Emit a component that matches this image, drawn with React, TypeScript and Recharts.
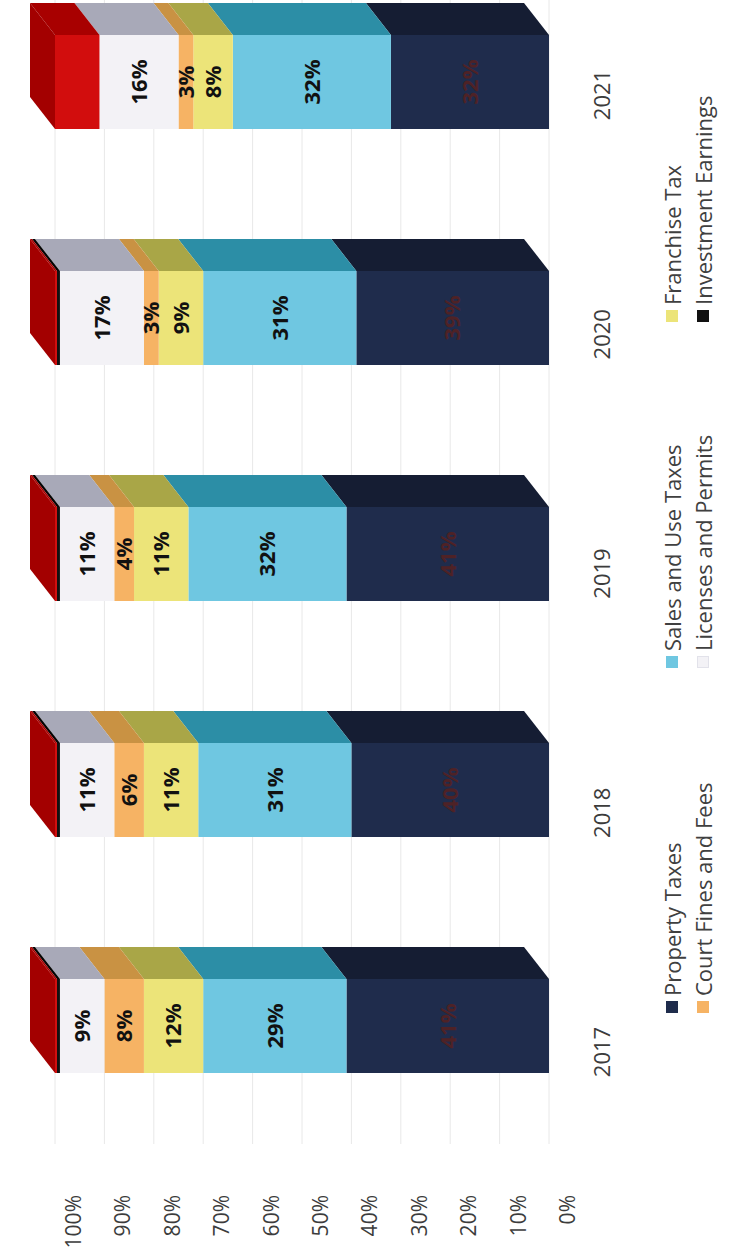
import React from 'react';
import { BarChart, Bar, XAxis, YAxis, CartesianGrid, LabelList } from 'recharts';

// revenue mix by year, percent of total
const years = ['2017', '2018', '2019', '2020', '2021'];
const propertyTaxes = [41, 40, 41, 39, 32];
const salesAndUseTaxes = [29, 31, 32, 31, 32];
const franchiseTax = [12, 11, 11, 9, 8];
const courtFinesAndFees = [8, 6, 4, 3, 3];
const licensesAndPermits = [9, 11, 11, 17, 16];
const investmentEarnings = [0.6, 0.6, 0.6, 0.6, 0];
const otherRevenue = [0.4, 0.4, 0.4, 0.4, 9];
const percentTicks = [0, 10, 20, 30, 40, 50, 60, 70, 80, 90, 100];

const data = years.map((year, i) => ({
  year,
  property: propertyTaxes[i],
  sales: salesAndUseTaxes[i],
  franchise: franchiseTax[i],
  court: courtFinesAndFees[i],
  licenses: licensesAndPermits[i],
  investment: investmentEarnings[i],
  other: otherRevenue[i],
}));

interface SeriesDef {
  key: string;
  name: string;
  front: string;
  side: string;
  labelColor?: string;
  inLegend: boolean;
}

const series: SeriesDef[] = [
  { key: 'property', name: 'Property Taxes', front: '#1f2c4c', side: '#151d33', labelColor: '#4e2226', inLegend: true },
  { key: 'sales', name: 'Sales and Use Taxes', front: '#6fc7e1', side: '#2c8ea6', labelColor: '#111', inLegend: true },
  { key: 'franchise', name: 'Franchise Tax', front: '#ece479', side: '#a9a647', labelColor: '#111', inLegend: true },
  { key: 'court', name: 'Court Fines and Fees', front: '#f6b364', side: '#c99243', labelColor: '#111', inLegend: true },
  { key: 'licenses', name: 'Licenses and Permits', front: '#f3f2f6', side: '#a8a9b8', labelColor: '#111', inLegend: true },
  { key: 'investment', name: 'Investment Earnings', front: '#111111', side: '#050505', inLegend: true },
  { key: 'other', name: 'Other', front: '#d20d0d', side: '#a80000', inLegend: false },
];

const DEPTH_X = 32;
const DEPTH_Y = 25;
const FONT = '"Open Sans", sans-serif';

const Bar3D = (props: any) => {
  const { x, y, width, height, front, side, cap } = props;
  if (x == null || y == null) return null;
  const w = width;
  const h = Math.max(height, 0);
  return (
    <g>
      <rect x={x} y={y} width={w} height={h} fill={front} />
      <polygon
        points={`${x + w},${y} ${x + w + DEPTH_X},${y - DEPTH_Y} ${x + w + DEPTH_X},${y + h - DEPTH_Y} ${x + w},${y + h}`}
        fill={side}
      />
      {cap && (
        <polygon
          points={`${x},${y} ${x + w},${y} ${x + w + DEPTH_X},${y - DEPTH_Y} ${x + DEPTH_X},${y - DEPTH_Y}`}
          fill={cap}
        />
      )}
    </g>
  );
};

const YearTick = (props: any) => {
  const { x, y, payload, index } = props;
  // labels drift a little with the perspective
  const shift = -26 + index * 3.25;
  return (
    <text x={x + shift} y={y + 52} textAnchor="middle" dominantBaseline="central"
      fill="#3c3c3c" fontSize={22} fontFamily={FONT}>
      {payload.value}
    </text>
  );
};

const PercentTick = (props: any) => {
  const { x, y, payload } = props;
  return (
    <text x={x} y={y + 18} textAnchor="end" dominantBaseline="central"
      fill="#3c3c3c" fontSize={21} fontFamily={FONT}>
      {`${payload.value}%`}
    </text>
  );
};

const legendCols = [246, 591, 937];
const legendRows = [672, 703];

const App: React.FC = () => {
  const legendItems = series.filter(s => s.inLegend);
  return (
    <div style={{ position: 'fixed', left: 0, top: 0, width: 729, height: 1259, overflow: 'hidden', background: '#fff' }}>
      <div
        style={{
          position: 'absolute', left: 0, top: 0, width: 1300, height: 729,
          transformOrigin: '0 0', transform: 'translate(0px, 1259px) rotate(-90deg)',
        }}
      >
        <BarChart width={1300} height={729} data={data}
          margin={{ top: 55, right: 5, bottom: 120, left: 0 }}>
          <CartesianGrid vertical={false} stroke="#e8e8e8" />
          <XAxis dataKey="year" height={60} axisLine={false} tickLine={false}
            tickSize={0} tickMargin={0} tick={<YearTick />} interval={0} />
          <YAxis type="number" domain={[0, 100]} ticks={percentTicks} width={115}
            axisLine={false} tickLine={false} tickSize={0} tickMargin={51}
            tick={<PercentTick />} />
          {series.map((s, i) => (
            <Bar key={s.key} dataKey={s.key} name={s.name} stackId="a" barSize={94}
              fill={s.front} isAnimationActive={false}
              shape={(p: any) => (
                <Bar3D {...p} front={s.front} side={s.side}
                  cap={i === series.length - 1 ? '#a30000' : undefined} />
              )}
            >
              {s.labelColor && (
                <LabelList dataKey={s.key} position="center"
                  formatter={(v: any) => `${v}%`}
                  fill={s.labelColor} fontSize={22} fontWeight={700} fontFamily={FONT} />
              )}
            </Bar>
          ))}
        </BarChart>
        {legendItems.map((s, i) => (
          <div key={s.key}
            style={{
              position: 'absolute', left: legendCols[i % 3], top: legendRows[Math.floor(i / 3)] - 13,
              height: 26, display: 'flex', alignItems: 'center', whiteSpace: 'nowrap',
              fontFamily: FONT, fontSize: 22, color: '#404040',
            }}
          >
            <span style={{ display: 'inline-block', width: 12, height: 12, background: s.front, marginRight: 5,
              border: s.key === 'licenses' ? '1px solid #e2e2ea' : 'none', boxSizing: 'border-box' }} />
            <span>{s.name}</span>
          </div>
        ))}
      </div>
    </div>
  );
};

export default App;
